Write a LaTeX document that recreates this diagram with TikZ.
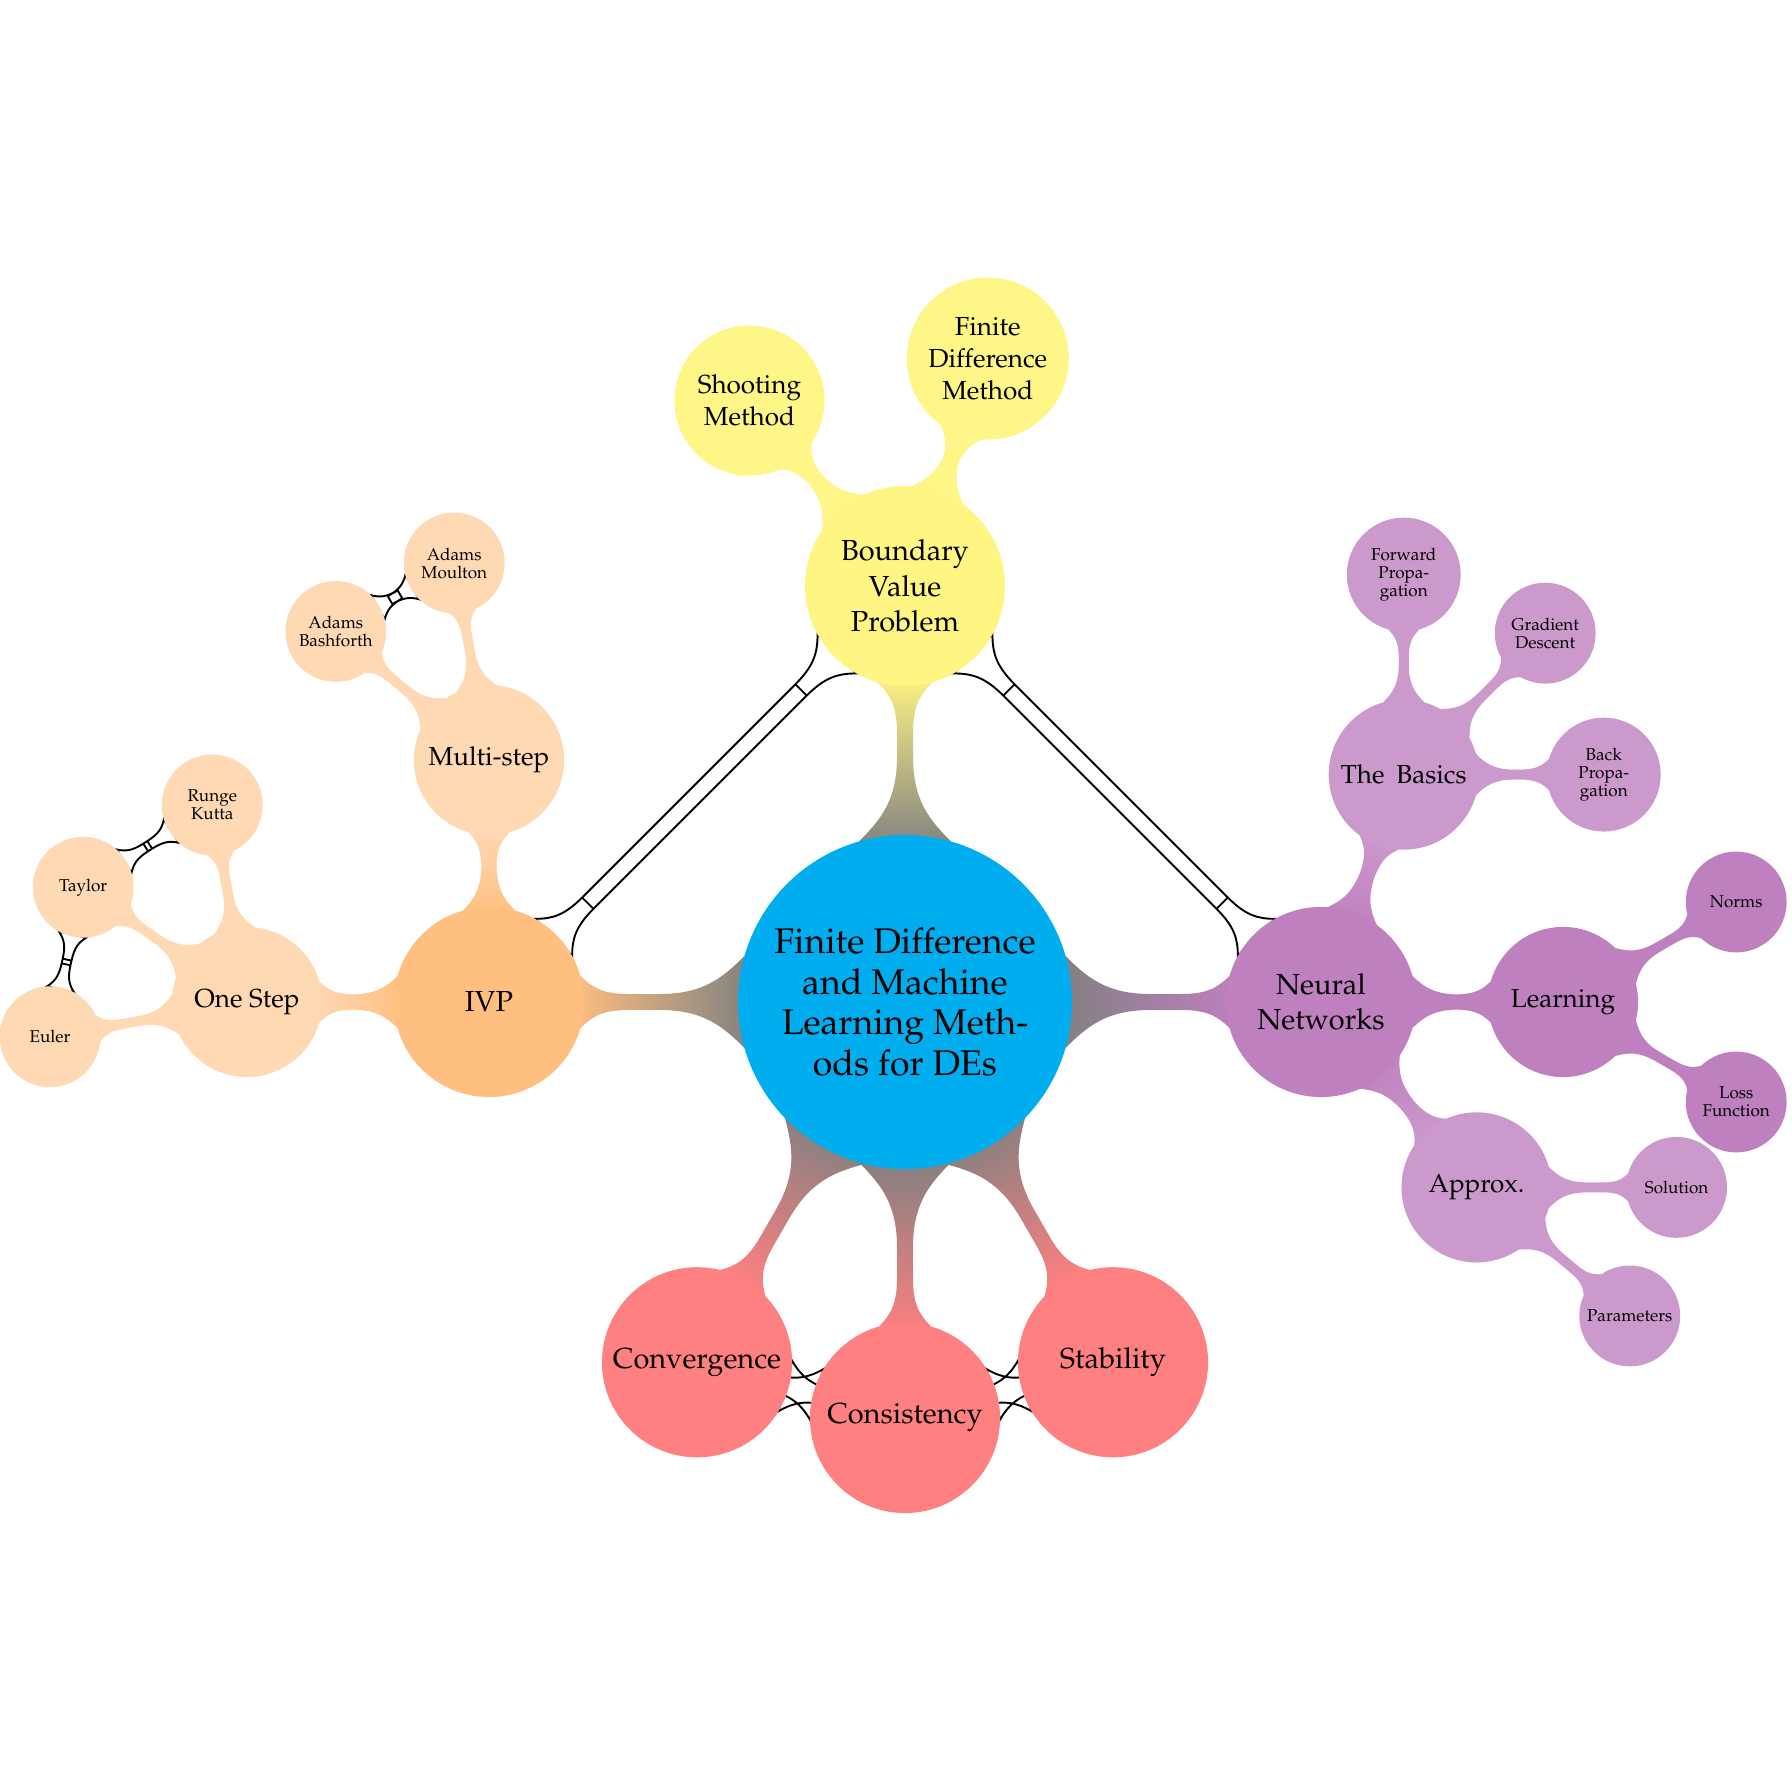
\documentclass[tikz,border=0pt]{standalone}
\usepackage[T1]{fontenc}
\usepackage{palatino}
\usetikzlibrary{calc}
\pgfdeclarelayer{background}
\pgfsetlayers{background,main}
\definecolor{rootc}{RGB}{0,174,239}
\definecolor{ivpc}{RGB}{255,191,128}
\definecolor{ivpl}{RGB}{255,217,179}
\definecolor{bvpc}{RGB}{255,245,130}
\definecolor{bvpl}{RGB}{255,246,136}
\definecolor{nnc}{RGB}{191,128,191}
\definecolor{nnl}{RGB}{204,153,204}
\definecolor{redc}{RGB}{255,128,128}
\definecolor{connroot}{RGB}{128,128,128}
\colorlet{cbA}{gray}\colorlet{cbB}{gray}
\pgfdeclareverticalshading[cbA,cbB]{cbshade}{100bp}{color(0bp)=(cbA); color(22bp)=(cbA); color(78bp)=(cbB); color(100bp)=(cbB)}
\newdimen\cbd
\def\cbth{16}   % half angle of the flare on the circle
\def\cbff{0.47} % flare length / radius
\def\pxv{0.345}
% connection bar between two circular nodes
\newcommand\cbar[4]{%
  \pgfextractx{\cbd}{\pgfpointanchor{#1}{center}}\pgfmathsetmacro\cbAx{\cbd}%
  \pgfextracty{\cbd}{\pgfpointanchor{#1}{center}}\pgfmathsetmacro\cbAy{\cbd}%
  \pgfextractx{\cbd}{\pgfpointanchor{#1}{east}}\pgfmathsetmacro\cbrA{\cbd-\cbAx}%
  \pgfextractx{\cbd}{\pgfpointanchor{#2}{center}}\pgfmathsetmacro\cbBx{\cbd}%
  \pgfextracty{\cbd}{\pgfpointanchor{#2}{center}}\pgfmathsetmacro\cbBy{\cbd}%
  \pgfextractx{\cbd}{\pgfpointanchor{#2}{east}}\pgfmathsetmacro\cbrB{\cbd-\cbBx}%
  \pgfmathsetmacro\cbphi{atan2(\cbBy-\cbAy,\cbBx-\cbAx)}%
  \pgfmathsetmacro\cbsa{\cbphi-90}%
  \pgfmathsetmacro\cbL{veclen(\cbBx-\cbAx,\cbBy-\cbAy)}%
  \pgfmathsetmacro\cbh{#3*\pxv}%
  \pgfmathsetmacro\cbfA{\cbff*\cbrA}%
  \pgfmathsetmacro\cbfB{\cbff*\cbrB}%
  \pgfmathsetmacro\cbxA{\cbrA+\cbfA}%
  \pgfmathsetmacro\cbxB{\cbrB+\cbfB}%
  \pgfmathsetmacro\cbkA{0.4*\cbfA}\pgfmathsetmacro\cbqA{0.55*\cbfA}%
  \pgfmathsetmacro\cbkB{0.4*\cbfB}\pgfmathsetmacro\cbqB{0.55*\cbfB}%
  \pgfmathsetmacro\cbdA{veclen(\cbxA,\cbh)}%
  \pgfmathsetmacro\cbdB{veclen(\cbxB,\cbh)}%
  \pgfmathsetmacro\cbeA{atan(\cbh/\cbxA)}%
  \pgfmathsetmacro\cbeB{atan(\cbh/\cbxB)}%
  \pgfmathsetmacro\cbbar{\cbL-\cbxA-\cbxB}%
  \ifdim\cbbar pt>0pt
    \def\cbbarpath{($(#1.center)+(\cbphi-\cbeA:\cbdA pt)$) -- ($(#2.center)+(\cbphi+180+\cbeB:\cbdB pt)$) -- ($(#2.center)+(\cbphi+180-\cbeB:\cbdB pt)$) -- ($(#1.center)+(\cbphi+\cbeA:\cbdA pt)$) -- cycle}%
  \else
    \def\cbbarpath{}%
  \fi
  \path[#4]
    % flare at the first node
    ($(#1.center)+(\cbphi-\cbth:\cbrA pt)$)
      .. controls ($(#1.center)+(\cbphi-\cbth:\cbrA pt)+(\cbphi+45:\cbkA pt)$)
             and ($(#1.center)+(\cbphi-\cbeA:\cbdA pt)+(\cbphi+180:\cbqA pt)$)
      .. ($(#1.center)+(\cbphi-\cbeA:\cbdA pt)$)
      -- ($(#1.center)+(\cbphi+\cbeA:\cbdA pt)$)
      .. controls ($(#1.center)+(\cbphi+\cbeA:\cbdA pt)+(\cbphi+180:\cbqA pt)$)
             and ($(#1.center)+(\cbphi+\cbth:\cbrA pt)+(\cbphi-45:\cbkA pt)$)
      .. ($(#1.center)+(\cbphi+\cbth:\cbrA pt)$)
      -- cycle
    % flare at the second node
    ($(#2.center)+(\cbphi+180-\cbth:\cbrB pt)$)
      .. controls ($(#2.center)+(\cbphi+180-\cbth:\cbrB pt)+(\cbphi+225:\cbkB pt)$)
             and ($(#2.center)+(\cbphi+180-\cbeB:\cbdB pt)+(\cbphi:\cbqB pt)$)
      .. ($(#2.center)+(\cbphi+180-\cbeB:\cbdB pt)$)
      -- ($(#2.center)+(\cbphi+180+\cbeB:\cbdB pt)$)
      .. controls ($(#2.center)+(\cbphi+180+\cbeB:\cbdB pt)+(\cbphi:\cbqB pt)$)
             and ($(#2.center)+(\cbphi+180+\cbth:\cbrB pt)+(\cbphi+135:\cbkB pt)$)
      .. ($(#2.center)+(\cbphi+180+\cbth:\cbrB pt)$)
      -- cycle
    \cbbarpath;%
}
\newcommand\cbshade[5]{\colorlet{cbA}{#4}\colorlet{cbB}{#5}\cbar{#1}{#2}{#3}{shade,shading=cbshade,shading angle=\cbsa}}
\newcommand\cbfill[4]{\cbar{#1}{#2}{#3}{fill=#4}}
\newcommand\cbline[3]{\cbar{#1}{#2}{#3}{draw=black,line width=0.65pt}}
\tikzset{
  concept/.style={circle, inner sep=0pt, outer sep=0pt, align=center, text=black},
  lvlzero/.style={concept, fill=rootc, minimum size=115.2pt, font=\fontsize{12.3}{14.1}\selectfont},
  lvlone/.style={concept, minimum size=65.6pt, font=\fontsize{10}{12.2}\selectfont},
  lvltwo/.style={concept, minimum size=51.8pt, font=\fontsize{9}{11}\selectfont},
  lvlthree/.style={concept, minimum size=34.8pt, font=\fontsize{5.9}{6.2}\selectfont}
}
\begin{document}
\begin{tikzpicture}[x=0.345pt,y=0.345pt]
\useasboundingbox (-905,-790) rectangle (887,1002);
% root and level 1
\node[lvlzero] (root) at (0,0) {Finite Difference\\and Machine\\Learning Meth-\\ods for DEs};
\node[lvlone, fill=ivpc] (ivp) at (180:416) {IVP};
\node[lvlone, fill=bvpc, minimum size=69pt] (bvp) at (90:416) {Boundary\\Value\\Problem};
\node[lvlone, fill=nnc] (nn) at (0:416) {Neural\\Networks};
\node[lvlone, fill=redc] (conv) at (240:416) {Convergence};
\node[lvlone, fill=redc] (cons) at (270:416) {Consistency};
\node[lvlone, fill=redc] (stab) at (300:416) {Stability};
% level 2
\node[lvltwo, fill=ivpl] (onestep) at ($(ivp)+(180:242)$) {One Step};
\node[lvltwo, fill=ivpl] (multi) at ($(ivp)+(90:242)$) {Multi-step};
\node[lvltwo, fill=bvpl] (shoot) at ($(bvp)+(130:242)$) {Shooting\\Method};
\node[lvltwo, fill=bvpl, minimum size=55.9pt] (fdm) at ($(bvp)+(70:242)$) {Finite\\Difference\\Method};
\node[lvltwo, fill=nnl] (basics) at ($(nn)+(70:242)$) {The\hspace{0.2em} Basics};
\node[lvltwo, fill=nnc] (learn) at ($(nn)+(0:242)$) {Learning};
\node[lvltwo, fill=nnl] (approx) at ($(nn)+(-50:242)$) {Approx.};
% level 3
\node[lvlthree, fill=ivpl] (taylor) at ($(onestep)+(145:200)$) {Taylor};
\node[lvlthree, fill=ivpl] (rk) at ($(onestep)+(100:200)$) {Runge\\Kutta};
\node[lvlthree, fill=ivpl] (euler) at ($(onestep)+(190:200)$) {Euler};
\node[lvlthree, fill=ivpl] (ab) at ($(multi)+(140:200)$) {Adams\\Bashforth};
\node[lvlthree, fill=ivpl] (am) at ($(multi)+(100:200)$) {Adams\\Moulton};
\node[lvlthree, fill=nnl, minimum size=39.3pt] (fp) at ($(basics)+(90:200)$) {Forward\\Propa-\\gation};
\node[lvlthree, fill=nnl] (gd) at ($(basics)+(45:200)$) {Gradient\\Descent};
\node[lvlthree, fill=nnl, minimum size=39.3pt] (bp) at ($(basics)+(0:200)$) {Back\\Propa-\\gation};
\node[lvlthree, fill=nnc] (norms) at ($(learn)+(30:200)$) {Norms};
\node[lvlthree, fill=nnc] (loss) at ($(learn)+(-30:200)$) {Loss\\Function};
\node[lvlthree, fill=nnl] (sol) at ($(approx)+(0:200)$) {Solution};
\node[lvlthree, fill=nnl] (param) at ($(approx)+(-40:200)$) {Parameters};
% connections
\begin{pgfonlayer}{background}
\cbshade{root}{ivp}{8}{connroot}{ivpc}
\cbshade{root}{bvp}{8}{connroot}{bvpc}
\cbshade{root}{nn}{8}{connroot}{nnc}
\cbshade{root}{conv}{8}{connroot}{redc}
\cbshade{root}{cons}{8}{connroot}{redc}
\cbshade{root}{stab}{8}{connroot}{redc}
\cbshade{ivp}{onestep}{7.5}{ivpc}{ivpl}
\cbshade{ivp}{multi}{7.5}{ivpc}{ivpl}
\cbfill{bvp}{shoot}{7.5}{bvpl}
\cbfill{bvp}{fdm}{7.5}{bvpl}
\cbshade{nn}{basics}{7.5}{nnc}{nnl}
\cbfill{nn}{learn}{7.5}{nnc}
\cbshade{nn}{approx}{7.5}{nnc}{nnl}
\cbfill{onestep}{taylor}{5}{ivpl}
\cbfill{onestep}{rk}{5}{ivpl}
\cbfill{onestep}{euler}{5}{ivpl}
\cbfill{multi}{ab}{5}{ivpl}
\cbfill{multi}{am}{5}{ivpl}
\cbfill{basics}{fp}{5}{nnl}
\cbfill{basics}{gd}{5}{nnl}
\cbfill{basics}{bp}{5}{nnl}
\cbfill{learn}{norms}{5}{nnc}
\cbfill{learn}{loss}{5}{nnc}
\cbfill{approx}{sol}{5}{nnl}
\cbfill{approx}{param}{5}{nnl}
\cbline{ivp}{bvp}{8}
\cbline{bvp}{nn}{8}
\cbline{conv}{cons}{8}
\cbline{cons}{stab}{8}
\cbline{taylor}{rk}{4.5}
\cbline{taylor}{euler}{4.5}
\cbline{ab}{am}{4.5}
\end{pgfonlayer}
\end{tikzpicture}
\end{document}
